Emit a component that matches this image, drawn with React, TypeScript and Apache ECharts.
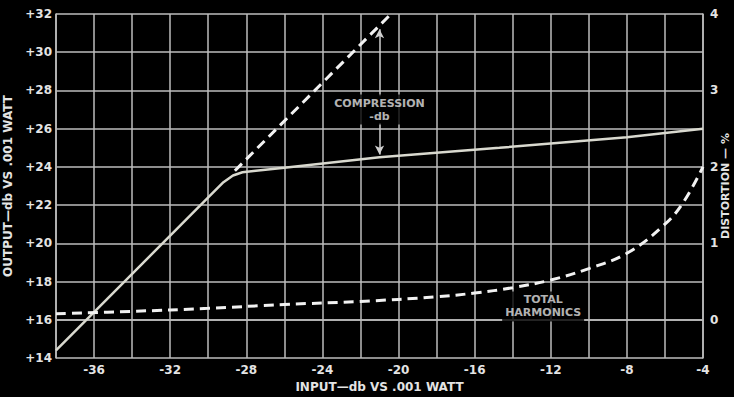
import React, { useEffect, useRef } from 'react';
import * as echarts from 'echarts';

// Output level vs input level (solid, compressed)
const inputDb = [-38, -30, -29.2, -28.7, -28.2, -27.5, -26, -21, -14.7, -8, -4];
const outputDb = [14.4, 22.4, 23.2, 23.55, 23.72, 23.8, 23.95, 24.5, 25.0, 25.55, 26.0];
// Uncompressed extension (dashed)
const extInputDb = [-28.6, -20.4];
const extOutputDb = [23.8, 32];
// Total harmonics distortion (%)
const harmInputDb = [-38, -34, -30, -26, -22, -18, -16, -14, -12, -10, -8, -6, -5, -4];
const harmPct = [0.08, 0.11, 0.15, 0.2, 0.24, 0.3, 0.35, 0.42, 0.52, 0.67, 0.87, 1.25, 1.55, 2.0];
// Compression arrow (input dB, output dB endpoints)
const arrowX = -21;
const arrowLower = [26.3, 24.65];
const arrowUpper = [27.7, 31.2];
// Annotation texts
const annotations = [
  { x: -21, y: 27.0, text: 'COMPRESSION\n-db' },
  { x: -12.4, y: 16.7, text: 'TOTAL\nHARMONICS' },
];

const FONT = 'DejaVu Sans';
const TXT = '#e4e4e4';
const GRID = '#bdbdbd';

export default function App() {
  const ref = useRef<HTMLDivElement>(null);
  useEffect(() => {
    if (!ref.current) return;
    const chart = echarts.init(ref.current, null, { renderer: 'svg' });
    chart.setOption({
      animation: false,
      backgroundColor: '#000',
      grid: { left: 56, right: 31, top: 14, bottom: 39, outerBoundsMode: 'none', containLabel: false },
      xAxis: {
        type: 'value',
        min: -38,
        max: -4,
        interval: 2,
        name: 'INPUT—db VS .001 WATT',
        nameLocation: 'middle',
        nameGap: 20,
        nameTextStyle: { color: TXT, fontFamily: FONT, fontWeight: 'bold', fontSize: 12 },
        axisLine: { show: true, lineStyle: { color: GRID, width: 1.5 } },
        axisTick: { show: false },
        axisLabel: {
          color: TXT,
          fontFamily: FONT,
          fontWeight: 'bold',
          fontSize: 12,
          margin: 6,
          formatter: (v: number) => ((v + 36) % 4 === 0 ? String(v) : ''),
        },
        splitLine: { show: true, lineStyle: { color: GRID, width: 1.5 } },
      },
      yAxis: [
        {
          type: 'value',
          min: 14,
          max: 32,
          interval: 2,
          name: 'OUTPUT—db VS .001 WATT',
          nameLocation: 'middle',
          nameRotate: 90,
          nameGap: 41,
          nameTextStyle: { color: TXT, fontFamily: FONT, fontWeight: 'bold', fontSize: 12 },
          axisLine: { show: true, lineStyle: { color: GRID, width: 1.5 } },
          axisTick: { show: false },
          axisLabel: {
            color: TXT,
            fontFamily: FONT,
            fontWeight: 'bold',
            fontSize: 12,
            margin: 4,
            formatter: (v: number) => '+' + v,
          },
          splitLine: { show: true, lineStyle: { color: GRID, width: 1.5 } },
        },
        {
          type: 'value',
          min: -0.5,
          max: 4,
          interval: 0.5,
          position: 'right',
          name: 'DISTORTION — %',
          nameLocation: 'middle',
          nameRotate: 90,
          nameGap: 17,
          nameMoveOverlap: false,
          nameTextStyle: { color: TXT, fontFamily: FONT, fontWeight: 'bold', fontSize: 11 },
          axisLine: { show: true, lineStyle: { color: GRID, width: 1.5 } },
          axisTick: { show: false },
          axisLabel: {
            color: TXT,
            fontFamily: FONT,
            fontWeight: 'bold',
            fontSize: 12,
            margin: 7,
            formatter: (v: number) => (Number.isInteger(v) ? String(v) : ''),
          },
          splitLine: { show: false },
        },
      ],
      series: [
        {
          type: 'line',
          data: inputDb.map((x, i) => [x, outputDb[i]]),
          showSymbol: false,
          lineStyle: { color: '#d9d9cf', width: 2.5 },
          z: 5,
          markLine: {
            silent: true,
            symbol: ['none', 'arrow'],
            symbolSize: [7, 9],
            label: { show: false },
            lineStyle: { color: '#cfcfcf', width: 1.5, type: 'solid' },
            data: [
              [{ coord: [arrowX, arrowLower[0]] }, { coord: [arrowX, arrowLower[1]] }],
              [{ coord: [arrowX, arrowUpper[0]] }, { coord: [arrowX, arrowUpper[1]] }],
            ],
          },
        },
        {
          type: 'line',
          data: extInputDb.map((x, i) => [x, extOutputDb[i]]),
          showSymbol: false,
          lineStyle: { color: '#f2f2f2', width: 3, type: [10, 6] },
          z: 5,
        },
        {
          type: 'line',
          yAxisIndex: 1,
          data: harmInputDb.map((x, i) => [x, harmPct[i]]),
          showSymbol: false,
          smooth: 0.4,
          lineStyle: { color: '#f2f2f2', width: 3, type: [10, 6] },
          z: 5,
        },
        {
          type: 'scatter',
          symbolSize: 0,
          data: annotations.map((a) => ({ value: [a.x, a.y], name: a.text })),
          label: {
            show: true,
            position: 'inside',
            formatter: (p: any) => p.name,
            color: TXT,
            fontFamily: FONT,
            fontWeight: 'bold',
            fontSize: 11,
            lineHeight: 13,
            align: 'center',
            backgroundColor: '#000',
            padding: [2, 3],
          },
          z: 6,
        },
      ],
    });
    return () => chart.dispose();
  }, []);
  return (
    <div
      ref={ref}
      style={{ position: 'fixed', left: 0, top: 0, width: 734, height: 397, background: '#000' }}
    />
  );
}
